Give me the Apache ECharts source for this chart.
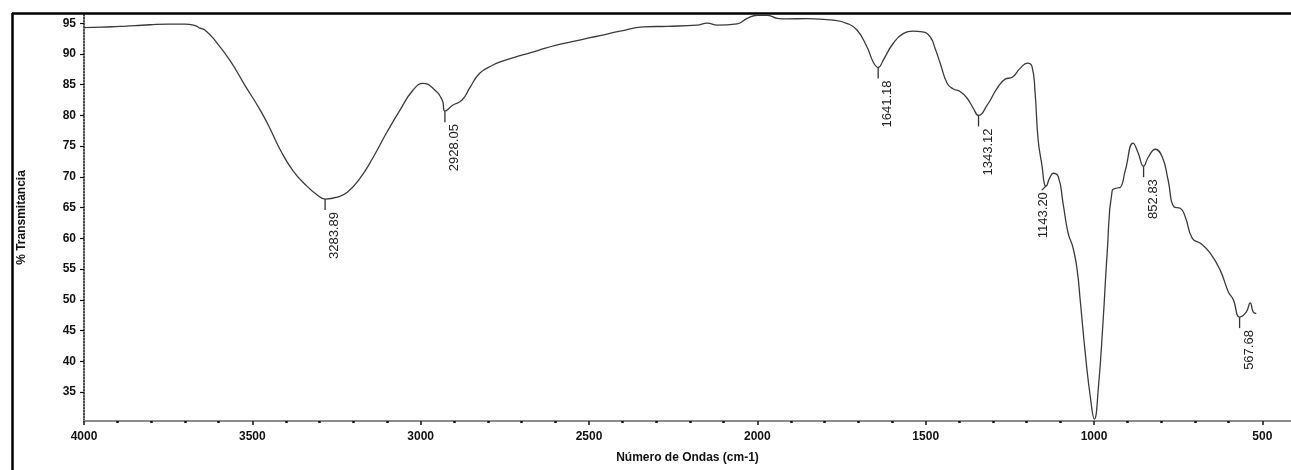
<!DOCTYPE html>
<html>
<head>
<meta charset="utf-8">
<script src="https://cdn.jsdelivr.net/npm/echarts@6/dist/echarts.min.js"></script>
<style>
  html, body {margin: 0; padding: 0; background: #fff;}
  #chart {width: 1291px; height: 470px;}
</style>
</head>
<body>
<div id="chart"></div>
<script>
// spectrum (cm-1, % transmitance)
const wavenumbers = [
  4000, 3950, 3893, 3850, 3804, 3750, 3700, 3670, 3655, 3641, 3611, 3566, 3522, 3477, 3447,
  3418, 3379, 3338, 3308, 3283.89, 3248, 3218, 3180, 3141, 3100, 3061, 3023, 2993, 2963,
  2936, 2928.05, 2904, 2877, 2853, 2824, 2785, 2764, 2700, 2650, 2600, 2550, 2500, 2467,
  2408, 2339, 2268, 2179, 2149, 2119, 2060, 2030, 2000, 1971, 1941, 1911, 1852, 1775, 1733,
  1704, 1674, 1656, 1641.18, 1626, 1597, 1567, 1537, 1510, 1487, 1472, 1457, 1436, 1418,
  1398, 1377, 1359, 1343.12, 1317, 1288, 1264, 1243, 1219, 1198, 1184, 1175, 1166, 1154,
  1148, 1143.20, 1132, 1121, 1106, 1092, 1077, 1062, 1050, 1041, 1026, 1011, 999, 987, 973,
  961, 946, 931, 922, 907, 884, 869, 852.83, 839, 818, 797, 780, 762, 744, 729, 708, 684,
  655, 625, 601, 586, 567.68, 548, 536, 527, 518
];
const transmitance = [
  94.3, 94.35, 94.5, 94.6, 94.75, 94.85, 94.85, 94.6, 94.2, 93.9, 92.2, 88.9, 84.9, 80.9, 77.8,
  74.5, 71.0, 68.5, 67.1, 66.4, 66.7, 67.5, 69.8, 73.2, 77.3, 80.9, 84.1, 85.2, 84.4,
  82.5, 80.7, 81.7, 82.5, 84.6, 86.9, 88.2, 88.7, 89.8, 90.6, 91.4, 92.0, 92.6, 93.0,
  93.7, 94.4, 94.5, 94.7, 95.0, 94.7, 94.9, 95.8, 96.3, 96.3, 95.8, 95.7, 95.75, 95.5, 94.95,
  93.9, 91.1, 88.7, 87.8, 89.0, 91.7, 93.3, 93.7, 93.6, 92.8, 90.9, 88.5, 85.2, 84.3,
  83.9, 82.8, 81.2, 80.0, 81.7, 84.4, 85.9, 86.2, 87.7, 88.5, 87.9, 83.6, 76.0, 71.6,
  69.0, 68.5, 69.8, 70.6, 70.0, 65.7, 60.85, 58.4, 54.8, 49.9, 41.3, 34.2, 30.6, 35.8, 46.7,
  57.6, 67.8, 68.2, 68.3, 71.1, 75.5, 73.9, 71.75, 73.2, 74.5, 73.2, 69.5, 65.1, 64.9, 63.5, 60.0, 59.2,
  57.6, 54.8, 51.3, 50.0, 47.2, 48.0, 49.5, 48.0, 47.8
];

// marked peaks
const peakWavenumbers = [3283.89, 2928.05, 1641.18, 1343.12, 1143.20, 852.83, 567.68];
const peakValues = [66.4, 80.7, 87.8, 80.0, 68.5, 71.75, 47.2];

const xTickLabels = [4000, 3500, 3000, 2500, 2000, 1500, 1000, 500];
const xMinorTicks = [];
for (let v = 500; v <= 4000; v += 100) if (v % 500) xMinorTicks.push(v);
const yTickLabels = [35, 40, 45, 50, 55, 60, 65, 70, 75, 80, 85, 90, 95];

const FONT = '"Liberation Sans", Arial, sans-serif';
const chart = echarts.init(document.getElementById('chart'));

chart.setOption({
  animation: false,
  backgroundColor: '#fff',
  grid: {left: 84, right: 0, top: 14, bottom: 49},
  xAxis: [{
    type: 'value',
    inverse: true,
    min: 415,
    max: 4000,
    name: 'Número de Ondas (cm-1)',
    nameLocation: 'middle',
    nameGap: 31,
    nameTextStyle: {fontFamily: FONT, fontSize: 12, fontWeight: 'bold', color: '#111'},
    splitLine: {show: false},
    axisLine: {lineStyle: {color: '#8c8c8c', width: 2}},
    axisTick: {customValues: xTickLabels, length: 4, lineStyle: {color: '#111', width: 1.5}},
    axisLabel: {customValues: xTickLabels, margin: 10, fontFamily: FONT, fontSize: 12,
      fontWeight: 'bold', color: '#111', formatter: v => String(v)}
  }, {
    type: 'value',
    inverse: true,
    min: 415,
    max: 4000,
    position: 'bottom',
    splitLine: {show: false},
    axisLine: {show: false},
    axisLabel: {show: false},
    axisTick: {customValues: xMinorTicks, length: 2, lineStyle: {color: '#111', width: 2.5}}
  }],
  yAxis: {
    type: 'value',
    min: 30.3,
    max: 96.5,
    name: '% Transmitancia',
    nameLocation: 'middle',
    nameGap: 56,
    nameTextStyle: {fontFamily: FONT, fontSize: 12, fontWeight: 'bold', color: '#111'},
    splitLine: {show: false},
    axisLine: {show: true, lineStyle: {color: '#111', width: 1.5, type: [1.5, 1.5]}},
    axisTick: {show: true, customValues: yTickLabels, length: 4, lineStyle: {color: '#111', width: 1.2}},
    axisLabel: {customValues: yTickLabels, margin: 8, fontFamily: FONT, fontSize: 12,
      fontWeight: 'bold', color: '#111', formatter: v => String(v)}
  },
  graphic: [
    {type: 'line', shape: {x1: 12, y1: 13.5, x2: 1291, y2: 13.5}, style: {stroke: '#000', lineWidth: 2.5}},
    {type: 'line', shape: {x1: 12.5, y1: 13, x2: 12.5, y2: 470}, style: {stroke: '#000', lineWidth: 2.5}}
  ],
  series: [{
    type: 'line',
    data: wavenumbers.map((w, i) => [w, transmitance[i]]),
    showSymbol: false,
    smooth: 0.5,
    lineStyle: {color: '#3a3a3a', width: 1.3},
    z: 3
  }, {
    type: 'custom',
    data: peakWavenumbers.map((w, i) => [w, peakValues[i]]),
    renderItem: (params, api) => {
      const p = api.coord([api.value(0), api.value(1)]);
      const txt = peakWavenumbers[params.dataIndex].toFixed(2);
      const left = txt === '1143.20';
      const tick = left ? 4 : 11;
      return {
        type: 'group',
        children: [{
          type: 'line',
          shape: {x1: p[0], y1: p[1], x2: left ? p[0] - 4 : p[0], y2: p[1] + tick},
          style: {stroke: '#333', lineWidth: 1.3}
        }, {
          type: 'text',
          x: left ? p[0] - 9 : p[0] + 3,
          y: p[1] + tick + 2,
          rotation: Math.PI / 2,
          style: {text: txt, align: 'right', verticalAlign: 'top',
            font: '13px ' + FONT, fill: '#222'}
        }]
      };
    },
    z: 4
  }]
});
</script>
</body>
</html>
